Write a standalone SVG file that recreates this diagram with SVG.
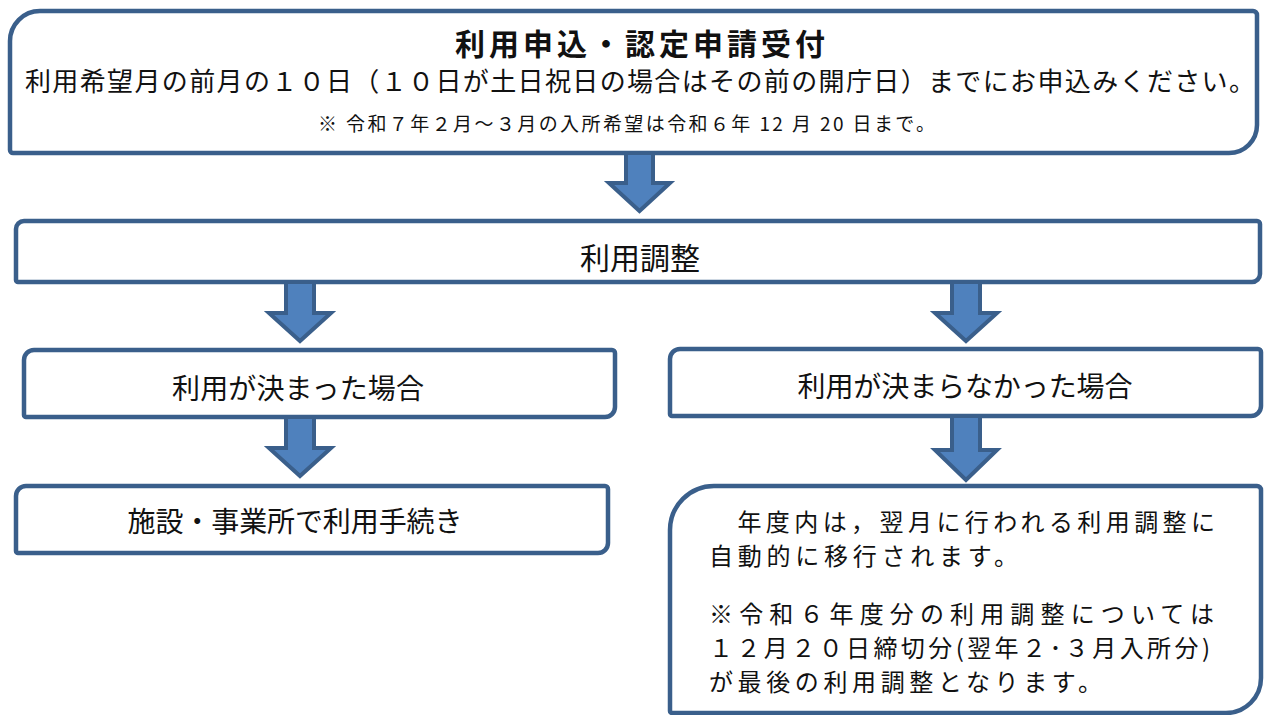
<svg xmlns="http://www.w3.org/2000/svg" width="1265" height="715" viewBox="0 0 1265 715">
<style>
.box{fill:#fff;stroke:#3A5F8B;stroke-width:4.5;stroke-linejoin:round}
.arr{fill:#4F81BD;stroke:#3A5F8B;stroke-width:4;stroke-linejoin:miter}
text{font-family:"Noto Sans CJK JP","Noto Sans CJK SC",sans-serif;fill:#111}
.m{font-size:28px;text-anchor:middle}
.b{font-size:24px}
</style>
<rect width="1265" height="715" fill="#fff"/>
<g id="n1">
<path class="box" d="M40,11 H1253 A4,4 0 0 1 1257,15 V125 A28,28 0 0 1 1229,153 H13 A3,3 0 0 1 10,150 V41 A30,30 0 0 1 40,11 Z"/>
<text x="640" y="55" style="font-size:30px;font-weight:bold;text-anchor:middle" textLength="370" lengthAdjust="spacing">利用申込・認定申請受付</text>
<text x="25" y="91" style="font-size:26px" textLength="1230" lengthAdjust="spacing">利用希望月の前月の１０日（１０日が土日祝日の場合はその前の開庁日）までにお申込みください。</text>
<text x="318" y="131" style="font-size:19px" textLength="617" lengthAdjust="spacing">※ 令和７年２月～３月の入所希望は令和６年 12 月 20 日まで。</text>
</g>
<g id="n2">
<path class="box" d="M24,221 H1257 A3,3 0 0 1 1260,224 V274 A8,8 0 0 1 1252,282 H18 A2,2 0 0 1 16,280 V229 A8,8 0 0 1 24,221 Z"/>
<text x="640" y="269" class="m" style="font-size:30px" textLength="120" lengthAdjust="spacing">利用調整</text>
</g>
<g id="n3">
<path class="box" d="M34,350 H612 A3,3 0 0 1 615,353 V407 A10,10 0 0 1 605,417 H26 A2,2 0 0 1 24,415 V360 A10,10 0 0 1 34,350 Z"/>
<text x="298" y="399" class="m" textLength="252" lengthAdjust="spacing">利用が決まった場合</text>
</g>
<g id="n4">
<path class="box" d="M680,349 H1258 A3,3 0 0 1 1261,352 V406 A10,10 0 0 1 1251,416 H672 A2,2 0 0 1 670,414 V359 A10,10 0 0 1 680,349 Z"/>
<text x="965" y="397" class="m" textLength="335" lengthAdjust="spacing">利用が決まらなかった場合</text>
</g>
<g id="n5">
<path class="box" d="M26,486 H605 A3,3 0 0 1 608,489 V543 A10,10 0 0 1 598,553 H18 A2,2 0 0 1 16,551 V496 A10,10 0 0 1 26,486 Z"/>
<text x="295" y="532" class="m" textLength="335" lengthAdjust="spacing">施設・事業所で利用手続き</text>
</g>
<g id="n6">
<path class="box" d="M714,486 H1257 A4,4 0 0 1 1261,490 V678 A35,35 0 0 1 1226,713 H672 A2,2 0 0 1 670,711 V530 A44,44 0 0 1 714,486 Z"/>
<text class="b"><tspan x="709" y="531" textLength="506" lengthAdjust="spacing">　年度内は，翌月に行われる利用調整に</tspan><tspan x="709" y="565" textLength="309" lengthAdjust="spacing">自動的に移行されます。</tspan><tspan x="709" y="623" textLength="505" lengthAdjust="spacing">※令和６年度分の利用調整については</tspan><tspan x="709" y="657" textLength="501" lengthAdjust="spacing">１２月２０日締切分(翌年２･３月入所分)</tspan><tspan x="709" y="691" textLength="393" lengthAdjust="spacing">が最後の利用調整となります。</tspan></text>
</g>
<g id="connectors">
<path class="arr" d="M626,153 H653 V183 H670 L639.5,211 L609,183 H626 Z"/>
<path class="arr" d="M286,282 H314 V313 H331 L300,341 L269,313 H286 Z"/>
<path class="arr" d="M952,282 H980 V313 H997 L966,341 L935,313 H952 Z"/>
<path class="arr" d="M286,417 H314 V448 H331 L300,476 L269,448 H286 Z"/>
<path class="arr" d="M952,416 H980 V450 H997 L966,480 L935,450 H952 Z"/>
</g>
</svg>
